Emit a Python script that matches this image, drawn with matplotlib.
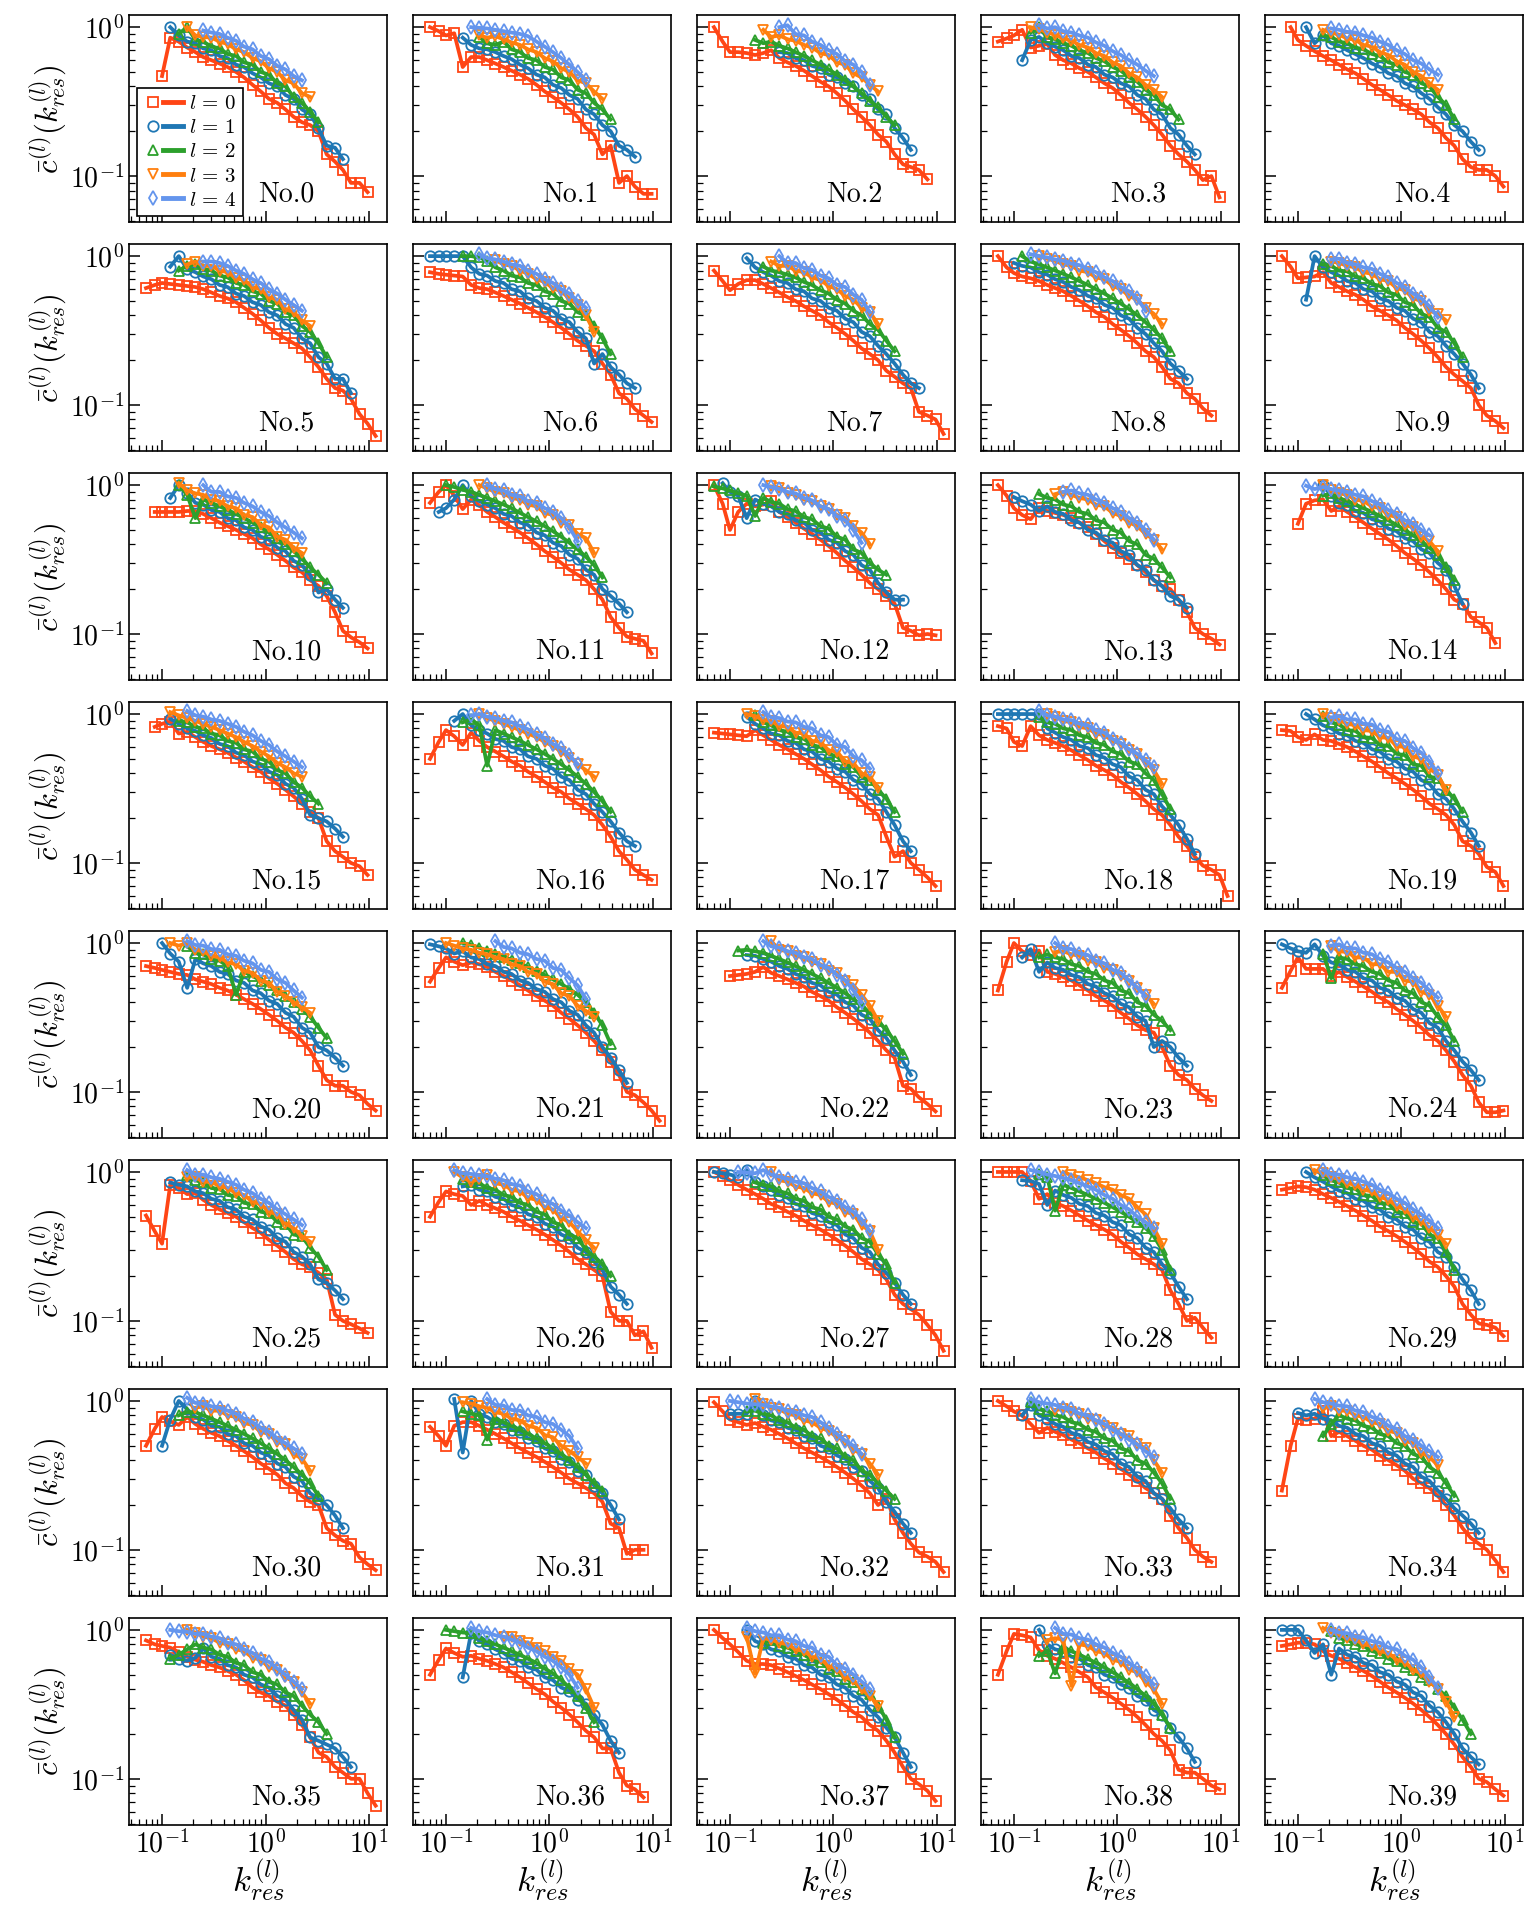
import numpy as np
import matplotlib.pyplot as plt
from matplotlib.lines import Line2D
from matplotlib.legend_handler import HandlerTuple
from matplotlib.ticker import FuncFormatter, NullFormatter, LogLocator

plt.rcParams['mathtext.fontset'] = 'cm'
plt.rcParams['font.family'] = 'serif'
plt.rcParams['font.serif'] = ['DejaVu Serif']

# log-binned residual degree k_res (bin centres, shared by all panels)
k_bins = [0.07, 0.085, 0.1, 0.12, 0.145, 0.175, 0.21, 0.25, 0.3, 0.36, 0.43,
          0.52, 0.62, 0.75, 0.9, 1.08, 1.3, 1.56, 1.87, 2.25, 2.7, 3.25,
          3.9, 4.7, 5.6, 6.7, 8.1, 9.7, 11.6]

layers = [0, 1, 2, 3, 4]
colors = ['#ff4515', '#1f77b4', '#2ca02c', '#ff7f0e', '#6495ed']
markers = ['s', 'o', '^', 'v', 'd']

# one list per network: for l = 0..4 -> (index of first bin, c(k) in percent)
n00 = [(2, [47, 85, 80, 73, 68, 63, 60, 57, 54, 50, 46, 41, 37, 33, 31, 28, 25, 23, 22, 20, 14, 12.5, 11, 9, 9, 7.8]),
       (3, [100, 88, 80, 78, 72, 70, 64, 62, 56, 54, 49, 46, 42, 40, 35, 33, 28, 26, 21, 16, 15.5, 13]),
       (4, [90, 100, 82, 80, 74, 72, 66, 64, 58, 56, 50, 48, 42, 40, 34, 31, 27, 23]),
       (5, [100, 88, 86, 85, 80, 77, 71, 68, 62, 59, 53, 50, 44, 42, 36, 34]),
       (7, [95, 92, 90, 85, 81, 74, 71, 64, 61, 55, 52, 47, 44])]
n01 = [(0, [100, 94, 88, 91, 54, 63, 63, 60, 57, 54, 51, 48, 45, 41, 37, 34, 31, 28, 25, 21, 19, 14, 16, 9, 10, 8.5, 7.6, 7.6]),
       (4, [85, 76, 72, 71, 68, 64, 61, 56, 53, 48, 46, 41, 39, 35, 33, 28, 26, 22, 20, 16, 15, 13.5]),
       (6, [86, 78, 76, 80, 71, 68, 62, 60, 54, 52, 46, 44, 38, 36, 31, 28, 24]),
       (6, [88, 85, 87, 83, 79, 76, 71, 68, 62, 59, 53, 50, 44, 42, 37, 33]),
       (5, [100, 99, 98, 96, 94, 92, 90, 87, 80, 74, 68, 62, 56, 50, 44])]
n02 = [(0, [100, 80, 68, 68, 67, 65, 67, 70, 62, 58, 55, 51, 47, 43, 40, 36, 32, 28, 25, 22, 19, 17, 14, 12, 11.5, 11, 9.5]),
       (8, [68, 67, 62, 60, 55, 53, 48, 46, 42, 40, 35, 33, 28, 26, 21, 18, 15]),
       (5, [82, 78, 80, 75, 72, 68, 64, 60, 56, 52, 48, 44, 40, 36, 32, 29, 25, 22]),
       (6, [96, 86, 88, 83, 81, 76, 73, 67, 65, 58, 56, 49, 46, 41, 37]),
       (8, [100, 103, 90, 88, 80, 76, 70, 66, 59, 56, 50, 41])]
n03 = [(0, [80, 84, 88, 96, 73, 75, 77, 65, 60, 57, 53, 50, 46, 42, 39, 35, 31, 28, 25, 22, 19, 16, 14, 12.5, 11, 9.4, 10, 7.2]),
       (3, [60, 82, 86, 78, 74, 70, 64, 62, 56, 54, 48, 46, 42, 40, 35, 33, 28, 26, 21, 19, 16, 14]),
       (4, [92, 100, 86, 83, 78, 75, 70, 67, 62, 59, 54, 51, 46, 43, 38, 35, 30, 28, 24]),
       (4, [100, 97, 92, 89, 84, 81, 76, 73, 67, 64, 58, 55, 49, 46, 41, 38, 34]),
       (5, [103, 98, 100, 94, 92, 88, 85, 79, 75, 69, 65, 60, 56, 51, 47])]
n04 = [(1, [100, 82, 75, 69, 64, 60, 56, 52, 49, 45, 41, 38, 35, 32, 30, 28, 26, 23, 21, 18, 16, 13, 11.5, 11, 11, 10, 8.5]),
       (3, [100, 78, 88, 78, 75, 70, 66, 62, 57, 54, 49, 47, 42, 40, 36, 33, 29, 26, 22, 20, 17, 15]),
       (5, [88, 86, 80, 78, 73, 71, 66, 64, 58, 56, 50, 48, 42, 40, 34, 30, 24]),
       (5, [96, 92, 89, 84, 82, 76, 74, 68, 65, 59, 56, 50, 47, 42, 38]),
       (6, [98, 96, 93, 92, 88, 85, 80, 76, 70, 66, 60, 57, 52, 48])]
n05 = [(0, [61, 64, 66, 65, 64, 63, 62, 60, 57, 54, 52, 49, 45, 41, 37, 33, 30, 28, 26, 24, 21, 18, 15, 13, 12.5, 11, 8.7, 7.5, 6.2]),
       (3, [85, 100, 82, 78, 73, 70, 64, 62, 56, 54, 49, 47, 42, 40, 35, 33, 28, 26, 21, 19, 15, 15, 12]),
       (4, [80, 86, 88, 82, 80, 74, 72, 66, 64, 58, 56, 50, 48, 42, 40, 34, 31, 26, 21]),
       (5, [88, 92, 86, 86, 80, 78, 71, 69, 62, 60, 53, 51, 44, 42, 37, 34]),
       (7, [92, 92, 90, 86, 80, 76, 70, 66, 60, 56, 51, 47, 43])]
n06 = [(0, [78, 76, 75, 74, 73, 64, 61, 60, 57, 54, 51, 48, 45, 42, 39, 36, 33, 30, 27, 25, 23, 19, 16, 12, 11, 9.4, 8.5, 7.7]),
       (0, [100, 100, 100, 100, 100, 84, 76, 74, 68, 66, 60, 58, 52, 50, 45, 43, 38, 36, 31, 28, 19, 22, 18, 16, 14, 13]),
       (4, [100, 100, 98, 93, 84, 80, 74, 72, 66, 64, 58, 56, 50, 48, 42, 40, 34, 28, 22]),
       (8, [94, 88, 86, 80, 76, 70, 67, 61, 58, 52, 47, 40, 31]),
       (6, [103, 97, 95, 92, 88, 86, 80, 76, 70, 66, 60, 56, 50, 45])]
n07 = [(0, [80, 68, 59, 65, 69, 69, 65, 61, 57, 53, 50, 46, 43, 40, 36, 33, 30, 27, 24, 22, 20, 17, 15.5, 14, 13, 9, 8.5, 8, 6.4]),
       (4, [97, 84, 78, 74, 68, 66, 60, 58, 52, 50, 45, 43, 38, 36, 31, 29, 25, 22, 19, 16, 14, 13]),
       (6, [85, 80, 78, 75, 72, 67, 64, 59, 56, 51, 48, 43, 40, 35, 32, 27, 23]),
       (7, [92, 86, 86, 80, 78, 72, 69, 63, 60, 54, 51, 45, 42, 35]),
       (8, [100, 90, 90, 83, 81, 74, 71, 64, 62, 55, 51, 42])]
n08 = [(0, [100, 84, 77, 73, 71, 68, 64, 61, 58, 54, 50, 46, 42, 39, 35, 32, 29, 26, 23, 21, 18, 15, 14, 12, 11, 9.5, 8.5]),
       (2, [90, 86, 84, 78, 75, 70, 67, 62, 59, 54, 52, 47, 45, 40, 38, 33, 30, 26, 23, 19, 17, 15]),
       (3, [100, 92, 88, 84, 80, 76, 72, 68, 64, 60, 56, 52, 48, 44, 40, 36, 32, 28, 23]),
       (5, [100, 96, 93, 88, 86, 80, 78, 72, 70, 63, 60, 54, 51, 45, 41, 35]),
       (4, [103, 100, 98, 95, 93, 89, 87, 82, 78, 72, 68, 62, 58, 52, 43])]
n09 = [(0, [100, 85, 71, 72, 73, 78, 66, 62, 58, 55, 51, 46, 43, 40, 37, 33, 30, 27, 24, 21, 18, 16, 14.5, 13, 10, 8.5, 7.8, 7.0]),
       (3, [51, 100, 84, 78, 74, 68, 66, 60, 58, 52, 50, 45, 43, 38, 36, 31, 29, 25, 22, 19, 16, 13]),
       (5, [88, 86, 80, 79, 73, 71, 65, 63, 57, 55, 49, 47, 41, 39, 33, 31, 26, 21]),
       (6, [92, 90, 86, 84, 78, 76, 70, 68, 61, 59, 52, 50, 43, 41, 37]),
       (6, [95, 96, 90, 88, 84, 82, 76, 72, 66, 62, 56, 52, 46, 39])]
n10 = [(1, [66, 66, 66, 66, 67, 67, 64, 60, 56, 53, 50, 47, 44, 40, 37, 34, 31, 28, 26, 23, 21, 18, 14, 10.5, 9.5, 8.8, 8.0]),
       (3, [82, 100, 89, 76, 74, 68, 66, 60, 58, 52, 50, 45, 43, 38, 36, 31, 29, 25, 19, 20, 17, 15]),
       (4, [100, 86, 60, 80, 76, 72, 68, 64, 60, 56, 52, 48, 44, 40, 36, 32, 28, 25, 22]),
       (4, [103, 92, 88, 86, 80, 78, 72, 70, 63, 61, 54, 52, 45, 43, 38, 35]),
       (7, [100, 90, 90, 84, 82, 76, 72, 66, 62, 56, 52, 48, 44])]
n11 = [(0, [76, 90, 100, 85, 69, 80, 73, 66, 61, 56, 52, 48, 44, 40, 36, 33, 30, 27, 25, 23, 20, 17, 13, 11, 9.6, 9.3, 9.0, 7.4]),
       (1, [66, 70, 80, 100, 84, 78, 74, 70, 64, 62, 56, 54, 48, 46, 41, 39, 34, 32, 27, 25, 20, 18, 16, 14]),
       (2, [100, 97, 93, 90, 86, 82, 78, 74, 70, 65, 61, 57, 53, 49, 45, 41, 37, 33, 29, 24]),
       (6, [100, 95, 90, 88, 82, 80, 74, 72, 65, 63, 56, 54, 47, 44, 35]),
       (7, [100, 94, 92, 86, 84, 78, 76, 70, 66, 60, 52, 42])]
n12 = [(0, [100, 75, 50, 66, 75, 72, 74, 78, 66, 61, 56, 51, 47, 43, 39, 35, 31, 28, 25, 22, 20, 18, 16, 11, 10.5, 9.8, 10, 9.8]),
       (1, [103, 90, 85, 60, 80, 75, 72, 66, 64, 58, 56, 50, 48, 43, 41, 36, 34, 29, 27, 22, 19, 17, 17]),
       (0, [98, 95, 92, 88, 85, 62, 82, 77, 75, 69, 67, 61, 59, 53, 51, 45, 43, 37, 35, 30, 27, 25]),
       (7, [98, 96, 88, 86, 80, 78, 72, 69, 63, 60, 53, 48, 40]),
       (6, [100, 97, 94, 90, 88, 82, 79, 72, 69, 62, 58, 50, 41])]
n13 = [(0, [100, 85, 70, 63, 59, 70, 67, 65, 63, 60, 56, 52, 47, 42, 38, 35, 32, 29, 26, 23, 21, 20, 17, 14, 11, 10, 9.3, 8.5]),
       (2, [83, 78, 74, 67, 72, 66, 64, 58, 56, 50, 48, 43, 41, 36, 34, 29, 27, 23, 21, 18, 17, 15]),
       (5, [87, 82, 80, 74, 72, 66, 64, 58, 56, 50, 48, 42, 40, 34, 32, 28, 24]),
       (7, [87, 90, 86, 82, 80, 74, 72, 65, 62, 56, 53, 47, 43, 37]),
       (8, [90, 92, 88, 86, 80, 76, 70, 66, 60, 56, 50, 43])]
n14 = [(2, [55, 75, 79, 80, 67, 72, 66, 61, 56, 51, 47, 43, 39, 35, 32, 29, 26, 23, 20, 17, 16, 13, 12, 11, 8.7]),
       (5, [100, 85, 76, 74, 67, 65, 59, 57, 51, 49, 44, 42, 37, 35, 30, 27, 21, 16]),
       (5, [85, 88, 82, 78, 74, 70, 66, 62, 58, 54, 50, 46, 42, 38, 34, 28, 23]),
       (5, [100, 92, 88, 86, 80, 78, 72, 70, 63, 61, 54, 52, 45, 42, 36]),
       (3, [99, 94, 97, 94, 92, 90, 86, 84, 78, 74, 68, 64, 58, 55, 50, 46])]
n15 = [(1, [82, 86, 89, 74, 76, 70, 65, 61, 58, 55, 51, 48, 44, 41, 37, 34, 31, 28, 25, 22, 20, 14, 12, 11, 10, 9.5, 8.3]),
       (3, [93, 86, 80, 77, 72, 69, 63, 61, 55, 53, 48, 46, 41, 39, 34, 32, 27, 21, 20, 19, 17, 15]),
       (4, [90, 88, 82, 80, 74, 72, 66, 64, 58, 56, 50, 48, 42, 40, 35, 32, 28, 25]),
       (3, [103, 98, 94, 90, 86, 82, 78, 74, 70, 65, 61, 56, 52, 47, 44, 40, 38]),
       (5, [105, 98, 96, 92, 90, 86, 82, 76, 72, 66, 62, 56, 52, 48, 44])]
n16 = [(0, [50, 65, 78, 71, 62, 75, 66, 60, 56, 52, 48, 45, 41, 38, 35, 32, 30, 27, 25, 23, 21, 18, 15, 12, 10.5, 9, 8.3, 7.7]),
       (3, [90, 100, 84, 78, 74, 68, 66, 60, 58, 52, 50, 45, 43, 38, 36, 31, 29, 25, 22, 19, 16, 14, 13]),
       (4, [88, 92, 84, 45, 78, 74, 70, 66, 62, 58, 54, 50, 46, 42, 38, 34, 30, 26, 22]),
       (6, [100, 94, 90, 86, 82, 78, 74, 70, 65, 61, 56, 51, 46, 42, 38]),
       (5, [98, 100, 96, 94, 90, 88, 83, 79, 73, 69, 63, 59, 53, 46])]
n17 = [(0, [75, 74, 73, 72, 71, 78, 72, 67, 62, 58, 54, 50, 46, 42, 38, 35, 32, 29, 26, 23, 21, 15, 11, 12, 10, 9, 8, 7]),
       (4, [96, 86, 80, 74, 72, 66, 64, 58, 56, 50, 48, 43, 41, 36, 34, 29, 27, 22, 18, 14, 12]),
       (5, [98, 88, 84, 78, 76, 70, 68, 62, 60, 54, 52, 46, 44, 38, 36, 31, 27, 22]),
       (4, [100, 97, 91, 90, 83, 82, 75, 74, 66, 65, 57, 56, 48, 47, 40, 38, 32]),
       (6, [103, 95, 94, 89, 88, 82, 80, 72, 70, 62, 60, 52, 49, 43])]
n18 = [(0, [83, 80, 65, 61, 83, 72, 67, 64, 61, 57, 53, 49, 45, 42, 39, 35, 32, 29, 26, 23, 21, 18, 15, 13, 11, 9.6, 9, 8.3, 6.0]),
       (0, [100, 100, 100, 100, 100, 100, 80, 75, 70, 67, 61, 59, 53, 51, 46, 44, 38, 36, 31, 29, 24, 21, 18, 14.5, 11.5]),
       (5, [95, 88, 86, 80, 78, 72, 70, 64, 62, 56, 54, 48, 46, 40, 36, 29, 23]),
       (6, [100, 96, 90, 88, 82, 80, 74, 72, 66, 63, 57, 54, 47, 42, 34]),
       (5, [105, 98, 96, 92, 91, 86, 84, 78, 75, 68, 64, 58, 54, 49, 44])]
n19 = [(0, [78, 77, 70, 67, 73, 67, 66, 63, 60, 56, 52, 48, 44, 40, 37, 34, 31, 28, 25, 23, 21, 18, 14, 13, 11.5, 9.4, 8.7, 7.0]),
       (3, [100, 92, 84, 80, 74, 72, 66, 64, 58, 56, 50, 48, 43, 41, 36, 34, 29, 27, 23, 19, 16, 13]),
       (5, [97, 88, 85, 78, 77, 70, 69, 62, 61, 54, 53, 46, 45, 38, 37, 31, 27, 22]),
       (5, [100, 94, 91, 86, 84, 78, 77, 70, 69, 61, 60, 52, 50, 43, 39, 31]),
       (6, [95, 97, 92, 92, 86, 85, 78, 76, 68, 66, 59, 55, 48, 40])]
n20 = [(0, [70, 68, 66, 64, 62, 61, 57, 55, 53, 50, 48, 45, 42, 39, 36, 33, 30, 27, 25, 22, 19, 15, 12, 11, 11, 10, 9.5, 8.3, 7.5]),
       (2, [100, 85, 75, 50, 78, 73, 70, 64, 62, 56, 54, 48, 46, 41, 39, 34, 32, 27, 25, 20, 19, 17, 15]),
       (5, [95, 86, 84, 78, 76, 70, 45, 64, 60, 56, 52, 48, 44, 40, 36, 32, 27, 23]),
       (3, [100, 96, 100, 90, 88, 82, 80, 74, 72, 65, 63, 56, 54, 47, 44, 40, 37, 34]),
       (5, [103, 97, 96, 91, 90, 84, 82, 76, 73, 66, 64, 57, 54, 48, 43])]
n21 = [(0, [55, 68, 80, 75, 71, 74, 72, 69, 64, 60, 56, 52, 48, 44, 41, 38, 34, 31, 28, 25, 22, 19, 16, 13, 10, 9.5, 8.5, 7.5, 6.4]),
       (0, [98, 95, 92, 85, 88, 80, 78, 72, 70, 64, 62, 56, 54, 49, 47, 42, 40, 35, 33, 28, 25, 20, 17, 14, 11.5]),
       (4, [100, 97, 93, 89, 85, 81, 77, 73, 69, 65, 61, 57, 53, 49, 45, 40, 34, 28, 21]),
       (2, [100, 96, 92, 90, 86, 84, 80, 78, 72, 70, 64, 62, 55, 53, 46, 44, 38, 35, 32]),
       (8, [103, 94, 92, 86, 84, 78, 76, 68, 66, 58, 52, 42])]
n22 = [(2, [60, 61, 62, 64, 69, 63, 60, 57, 54, 51, 47, 44, 41, 37, 34, 31, 28, 25, 22, 19, 17, 11, 10.5, 9.2, 8.3, 7.4]),
       (4, [83, 82, 78, 75, 70, 67, 62, 59, 54, 52, 47, 45, 40, 38, 33, 31, 26, 23, 19, 16, 13]),
       (3, [89, 90, 88, 86, 82, 78, 74, 70, 66, 62, 58, 54, 50, 46, 42, 38, 34, 30, 26, 22, 18]),
       (7, [103, 90, 88, 82, 80, 74, 72, 65, 63, 56, 52, 45, 38, 30]),
       (6, [103, 95, 93, 88, 86, 80, 78, 71, 68, 61, 56, 48, 40])]
n23 = [(0, [48, 75, 100, 88, 83, 89, 64, 62, 59, 56, 52, 48, 44, 41, 38, 34, 31, 28, 26, 25, 20, 15, 13, 12, 10.5, 9.5, 8.7]),
       (3, [80, 91, 64, 74, 68, 66, 61, 59, 53, 51, 46, 44, 39, 37, 32, 30, 20, 22, 20, 17, 15]),
       (5, [80, 84, 80, 78, 72, 70, 64, 62, 56, 54, 48, 46, 40, 38, 33, 30, 26]),
       (7, [87, 88, 84, 82, 76, 74, 68, 66, 60, 56, 50, 45, 39]),
       (7, [100, 92, 91, 85, 83, 76, 73, 66, 63, 56, 50, 44])]
n24 = [(0, [50, 65, 80, 67, 67, 67, 60, 64, 59, 55, 51, 47, 43, 40, 36, 33, 30, 27, 24, 22, 19, 16, 13, 11, 8.5, 7.3, 7.3, 7.5]),
       (0, [98, 92, 88, 86, 98, 82, 74, 72, 66, 64, 58, 56, 50, 48, 43, 41, 36, 34, 29, 27, 22, 19, 16, 14, 12]),
       (5, [85, 58, 80, 78, 72, 70, 64, 62, 56, 54, 48, 46, 40, 38, 32, 28, 22]),
       (6, [95, 88, 87, 80, 80, 72, 72, 64, 64, 56, 55, 47, 45, 38, 32]),
       (6, [96, 98, 92, 92, 86, 84, 78, 74, 68, 64, 58, 54, 48, 43])]
n25 = [(0, [51, 40, 33, 82, 78, 71, 72, 65, 60, 56, 53, 50, 46, 42, 39, 35, 32, 29, 26, 24, 23, 21, 19, 11, 10, 9.5, 8.9, 8.3]),
       (3, [85, 82, 80, 74, 72, 66, 64, 58, 56, 50, 48, 43, 41, 36, 34, 29, 27, 24, 19, 18, 16, 14]),
       (5, [96, 88, 85, 78, 77, 70, 69, 62, 61, 54, 53, 46, 45, 38, 37, 31, 27, 22]),
       (5, [92, 92, 86, 86, 80, 78, 72, 70, 63, 61, 54, 52, 45, 42, 37, 34]),
       (5, [103, 96, 96, 92, 90, 86, 82, 76, 72, 66, 62, 56, 52, 48, 44])]
n26 = [(0, [50, 63, 74, 71, 69, 60, 64, 60, 57, 54, 50, 47, 44, 41, 38, 35, 32, 29, 26, 24, 22, 20, 11.5, 10, 10, 8, 8.5, 6.6]),
       (4, [80, 82, 76, 74, 68, 66, 60, 58, 52, 50, 45, 43, 38, 36, 31, 29, 25, 22, 17, 15, 13]),
       (4, [90, 86, 84, 78, 76, 70, 68, 62, 60, 54, 52, 46, 44, 38, 36, 30, 27, 24, 20]),
       (3, [100, 92, 86, 90, 96, 84, 82, 76, 74, 67, 65, 58, 56, 49, 46, 40, 35, 31]),
       (3, [103, 98, 97, 95, 94, 90, 88, 83, 81, 74, 71, 64, 61, 55, 51, 46, 42])]
n27 = [(0, [100, 94, 88, 82, 76, 71, 66, 61, 58, 54, 51, 47, 44, 41, 38, 35, 32, 29, 26, 24, 22, 19, 15, 13, 12, 11, 9.4, 8, 6.3]),
       (0, [100, 98, 96, 93, 103, 86, 80, 76, 70, 67, 61, 59, 53, 51, 46, 44, 38, 36, 31, 29, 24, 21, 18, 15, 13]),
       (5, [85, 82, 80, 74, 72, 66, 64, 58, 56, 50, 48, 43, 41, 36, 34, 28, 24, 18]),
       (7, [100, 88, 86, 80, 78, 72, 70, 63, 61, 54, 52, 44, 40, 30]),
       (3, [100, 99, 98, 103, 96, 93, 90, 86, 84, 78, 74, 68, 64, 58, 54, 48, 40])]
n28 = [(0, [100, 100, 100, 100, 87, 66, 71, 62, 59, 55, 51, 47, 44, 41, 38, 34, 31, 28, 26, 24, 22, 16, 13, 10, 10.5, 9, 7.7]),
       (3, [88, 87, 83, 60, 75, 70, 67, 61, 59, 53, 51, 46, 44, 38, 36, 31, 29, 24, 21, 17, 14]),
       (5, [97, 92, 55, 82, 78, 74, 70, 66, 62, 58, 54, 50, 46, 42, 37, 30, 22]),
       (8, [100, 95, 92, 88, 84, 79, 76, 70, 66, 58, 52, 42, 33]),
       (4, [103, 100, 96, 94, 91, 88, 84, 80, 76, 70, 66, 60, 56, 50, 46, 42])]
n29 = [(0, [76, 78, 80, 79, 76, 71, 67, 63, 59, 55, 51, 47, 43, 40, 37, 34, 31, 28, 25, 23, 20, 17, 13, 11, 9.6, 9.4, 9, 7.9]),
       (3, [100, 92, 86, 80, 75, 72, 66, 64, 58, 56, 50, 48, 43, 41, 36, 34, 29, 27, 23, 19, 16, 13]),
       (5, [95, 88, 85, 78, 77, 70, 69, 62, 61, 54, 53, 46, 45, 38, 36, 29, 22]),
       (4, [103, 98, 92, 90, 84, 82, 76, 74, 68, 65, 59, 56, 50, 47, 42, 38, 33]),
       (5, [103, 97, 96, 92, 90, 86, 82, 76, 72, 66, 62, 56, 52, 47, 42])]
n30 = [(0, [50, 65, 78, 73, 69, 78, 70, 65, 61, 58, 54, 50, 46, 42, 38, 35, 32, 28, 26, 23, 21, 20, 14, 12.5, 11.5, 11, 8.9, 8.0, 7.3]),
       (2, [50, 75, 100, 88, 78, 75, 68, 67, 60, 58, 52, 50, 45, 43, 38, 36, 31, 29, 24, 22, 20, 17, 14]),
       (4, [80, 84, 84, 80, 76, 72, 68, 64, 60, 56, 52, 48, 44, 40, 36, 32, 28, 23]),
       (6, [90, 92, 86, 86, 80, 78, 71, 69, 62, 60, 53, 51, 44, 41, 34]),
       (5, [105, 97, 96, 92, 90, 86, 82, 76, 72, 66, 62, 56, 52, 48, 44])]
n31 = [(0, [67, 58, 50, 68, 72, 72, 68, 64, 60, 56, 52, 48, 45, 42, 39, 36, 33, 30, 28, 26, 24, 21, 15, 14, 9.4, 10, 10]),
       (3, [103, 45, 100, 82, 78, 72, 70, 64, 62, 56, 54, 48, 46, 41, 39, 34, 32, 27, 24, 20, 16]),
       (4, [85, 82, 80, 55, 76, 72, 68, 64, 60, 56, 52, 48, 44, 40, 36, 32, 28, 25]),
       (4, [98, 96, 92, 90, 84, 82, 76, 74, 68, 66, 59, 57, 50, 46, 42, 38]),
       (7, [103, 94, 93, 87, 86, 80, 78, 72, 70, 64, 58, 48])]
n32 = [(0, [98, 85, 75, 72, 69, 71, 67, 64, 60, 56, 52, 48, 45, 42, 39, 36, 33, 30, 27, 24, 20, 22, 16, 13, 11, 9.6, 9, 8.3, 7.1]),
       (2, [82, 82, 82, 100, 80, 74, 72, 66, 64, 58, 56, 50, 48, 43, 41, 36, 34, 29, 26, 21, 18, 15, 13]),
       (4, [85, 86, 82, 80, 74, 72, 66, 64, 58, 56, 50, 48, 42, 40, 34, 32, 28, 25, 22]),
       (5, [103, 96, 90, 88, 82, 80, 74, 72, 66, 63, 57, 54, 47, 44, 38, 32]),
       (2, [100, 98, 96, 95, 94, 92, 90, 86, 84, 80, 78, 72, 66, 60, 54, 50, 44])]
n33 = [(0, [100, 92, 85, 80, 70, 61, 66, 62, 59, 55, 52, 48, 45, 41, 38, 35, 32, 29, 26, 24, 22, 17, 14, 12, 10, 9, 8.3]),
       (3, [80, 94, 80, 76, 70, 67, 61, 59, 53, 51, 46, 44, 38, 36, 31, 29, 24, 22, 19, 16, 14]),
       (4, [98, 88, 86, 80, 78, 72, 70, 64, 62, 56, 54, 48, 46, 40, 38, 33, 28, 22]),
       (7, [87, 88, 84, 82, 76, 74, 68, 66, 60, 58, 51, 48, 40, 33]),
       (4, [103, 98, 96, 94, 90, 88, 82, 80, 74, 70, 64, 60, 55, 51, 46, 42])]
n34 = [(0, [25, 50, 76, 75, 76, 85, 58, 62, 58, 54, 50, 47, 43, 40, 37, 34, 30, 28, 26, 23, 20, 17, 14, 12, 11, 10, 8.5, 7.1]),
       (2, [83, 80, 82, 76, 74, 68, 66, 60, 58, 52, 50, 45, 43, 38, 36, 31, 29, 25, 22, 19, 17, 15, 13]),
       (5, [58, 70, 80, 76, 74, 68, 66, 60, 58, 52, 50, 44, 42, 36, 33, 28, 23]),
       (5, [89, 92, 86, 86, 80, 78, 72, 70, 63, 61, 54, 52, 45, 42, 37]),
       (4, [103, 98, 96, 93, 92, 86, 84, 78, 75, 68, 65, 58, 55, 50, 46, 42])]
n35 = [(0, [85, 80, 78, 76, 71, 66, 63, 61, 58, 56, 53, 50, 46, 41, 38, 36, 33, 31, 27, 23, 19, 15, 14, 12, 11, 10, 10, 8, 6.6]),
       (3, [68, 64, 62, 65, 75, 66, 64, 58, 56, 50, 48, 43, 41, 36, 34, 29, 25, 19, 18, 17, 16, 14, 12]),
       (3, [64, 68, 74, 80, 76, 74, 68, 66, 60, 58, 52, 50, 45, 43, 38, 36, 31, 27, 24, 20]),
       (5, [100, 96, 90, 88, 82, 80, 74, 72, 65, 63, 56, 54, 48, 45, 38, 32]),
       (3, [100, 98, 97, 94, 94, 90, 88, 82, 80, 74, 70, 64, 61, 55, 50, 45, 40])]
n36 = [(0, [50, 63, 75, 70, 66, 67, 64, 62, 59, 56, 52, 48, 44, 40, 37, 33, 30, 27, 24, 21, 19, 16, 16, 11, 9, 8.5, 7.5]),
       (4, [48, 96, 84, 80, 74, 70, 64, 62, 56, 54, 48, 46, 41, 39, 34, 32, 27, 23, 18, 15]),
       (2, [100, 98, 96, 95, 88, 84, 80, 76, 72, 68, 64, 60, 55, 51, 46, 41, 36, 30, 24]),
       (9, [89, 90, 84, 82, 76, 72, 66, 62, 55, 50, 40, 30]),
       (5, [103, 98, 96, 92, 90, 86, 82, 76, 72, 66, 62, 56, 50, 41])]
n37 = [(0, [100, 88, 80, 71, 62, 59, 59, 58, 55, 52, 49, 46, 43, 40, 37, 34, 31, 28, 26, 23, 21, 18, 15, 12, 10, 9.2, 8.3, 7.1]),
       (4, [100, 84, 80, 74, 72, 66, 64, 58, 56, 50, 48, 43, 41, 36, 34, 29, 26, 22, 19, 15, 12]),
       (6, [82, 85, 78, 76, 72, 68, 63, 61, 55, 53, 47, 45, 40, 37, 31, 25, 19]),
       (4, [90, 51, 88, 86, 82, 80, 74, 72, 66, 64, 57, 55, 48, 46, 40, 36, 31]),
       (4, [103, 98, 96, 92, 92, 86, 84, 78, 76, 68, 66, 58, 55, 50, 45, 40])]
n38 = [(0, [50, 72, 94, 92, 89, 73, 67, 64, 60, 56, 52, 48, 41, 38, 35, 32, 29, 26, 23, 20, 18, 15.5, 11.5, 11, 11, 10, 9, 8.5]),
       (5, [100, 80, 74, 72, 66, 64, 58, 56, 50, 48, 43, 41, 36, 34, 29, 27, 22, 19, 16, 13]),
       (5, [67, 72, 51, 76, 72, 68, 64, 60, 56, 52, 48, 44, 40, 36, 32, 27, 22]),
       (6, [85, 88, 86, 42, 80, 78, 72, 70, 63, 61, 54, 52, 45, 40, 32]),
       (7, [103, 94, 93, 88, 86, 80, 76, 70, 66, 60, 55, 49, 43])]
n39 = [(0, [78, 80, 82, 82, 80, 72, 67, 64, 60, 56, 53, 49, 45, 41, 38, 35, 32, 29, 26, 23, 20, 17, 14, 12, 10, 9.5, 8.5, 7.7]),
       (0, [100, 100, 100, 85, 70, 80, 50, 75, 68, 66, 60, 58, 52, 50, 45, 43, 38, 36, 31, 28, 24, 20, 16, 14, 12.5]),
       (6, [98, 88, 86, 80, 78, 72, 70, 64, 62, 56, 54, 48, 46, 40, 36, 30, 25, 20]),
       (5, [103, 96, 93, 88, 86, 80, 78, 72, 70, 63, 61, 54, 51, 45, 40, 33, 26]),
       (6, [100, 96, 95, 90, 89, 84, 82, 76, 74, 67, 63, 56, 48, 41])]

networks = [n00, n01, n02, n03, n04, n05, n06, n07, n08, n09,
            n10, n11, n12, n13, n14, n15, n16, n17, n18, n19,
            n20, n21, n22, n23, n24, n25, n26, n27, n28, n29,
            n30, n31, n32, n33, n34, n35, n36, n37, n38, n39]

fig, axes = plt.subplots(8, 5, figsize=(15.4, 19.23), dpi=100, sharex=True, sharey=True)
fig.subplots_adjust(left=0.0838, right=0.989, top=0.992, bottom=0.051,
                    wspace=0.1, hspace=0.107)

decade = FuncFormatter(lambda v, p: r'$10^{%d}$' % int(round(np.log10(v))))

for i, ax in enumerate(axes.flat):
    for l in layers:
        start, vals = networks[i][l]
        k = k_bins[start:start + len(vals)]
        c = np.array(vals) / 100.0
        ax.plot(k, c, color=colors[l], lw=2.7, marker=markers[l], ms=7.5,
                mfc='none', mec=colors[l], mew=1.3, zorder=2 + l)
    ax.set_xscale('log')
    ax.set_yscale('log')
    ax.set_xlim(0.048, 15)
    ax.set_ylim(0.049, 1.2)
    ax.xaxis.set_major_locator(LogLocator(base=10, numticks=10))
    ax.yaxis.set_major_locator(LogLocator(base=10, numticks=10))
    ax.xaxis.set_major_formatter(decade)
    ax.yaxis.set_major_formatter(decade)
    ax.xaxis.set_minor_formatter(NullFormatter())
    ax.yaxis.set_minor_formatter(NullFormatter())
    ax.tick_params(which='both', direction='in', top=False, right=False, labelsize=20)
    ax.tick_params(which='major', length=8, width=1.1)
    ax.tick_params(which='minor', length=4, width=0.9)
    for sp in ax.spines.values():
        sp.set_linewidth(1.2)
    ax.text(0.61, 0.1, 'No.%d' % i, transform=ax.transAxes, family='cmr10',
            ha='center', va='baseline', fontsize=20)

for ax in axes[:, 0]:
    ax.set_ylabel(r'$\bar{c}^{(l)}(k_{res}^{(l)})$', fontsize=22, labelpad=1)
for ax in axes[-1, :]:
    ax.set_xlabel(r'$k_{res}^{(l)}$', fontsize=25, labelpad=0)

handles = []
for l in layers:
    mk = Line2D([], [], ls='none', marker=markers[l], ms=7.5, mfc='none',
                mec=colors[l], mew=1.3)
    ln = Line2D([], [], color=colors[l], lw=3.5)
    handles.append((mk, ln))
leg = axes[0, 0].legend(handles, [r'$l\,=\,%d$' % l for l in layers],
                        handler_map={tuple: HandlerTuple(ndivide=None, pad=0.0)},
                        loc='lower left', bbox_to_anchor=(0.03, 0.03), fontsize=15,
                        handlelength=1.9, handletextpad=0.3, labelspacing=0.25,
                        borderpad=0.3, borderaxespad=0.0, fancybox=False,
                        framealpha=1.0, edgecolor='black')
leg.get_frame().set_linewidth(1.2)
leg.set_zorder(20)

fig.savefig('out.png', dpi=100)
